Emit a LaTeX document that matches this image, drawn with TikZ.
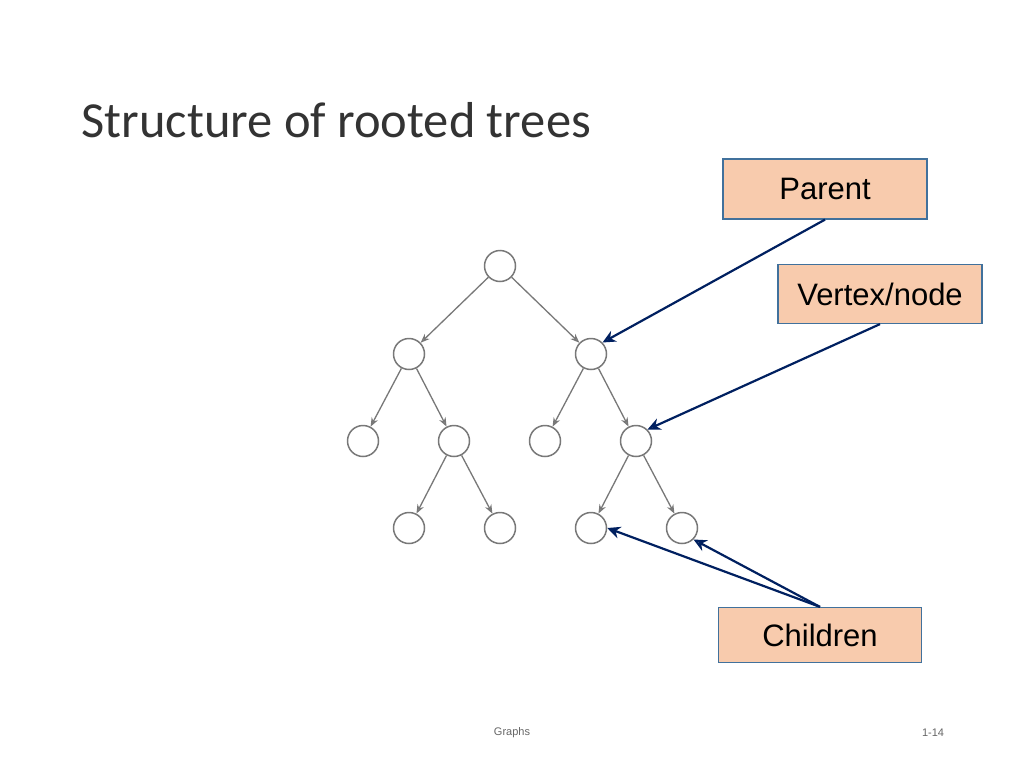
\documentclass[tikz,border=0pt]{standalone}
\usepackage{fontspec}
\setmainfont{Liberation Sans}
\newfontfamily\titlefont{Carlito}
\usetikzlibrary{arrows.meta}
\definecolor{peach}{RGB}{248,203,173}
\definecolor{bord}{RGB}{65,113,156}
\definecolor{navy}{RGB}{0,32,96}
\definecolor{vgray}{RGB}{120,120,120}
\begin{document}
\begin{tikzpicture}[x=1pt,y=-1pt,
  vert/.style={circle,draw=vgray,line width=1.5pt,minimum size=31pt,inner sep=0pt,fill=white},
  edge/.style={draw=vgray,line width=1.3pt,-{Stealth[length=9pt,width=7pt,open]}},
  lbl/.style={draw=bord,fill=peach,line width=1.2pt,font=\fontsize{31}{35}\selectfont},
  pt/.style={draw=navy,line width=2.2pt,-{Stealth[length=13pt,width=12pt,open]}}]
\useasboundingbox[fill=white] (0,0) rectangle (1024,768);
\node[anchor=west,font=\titlefont\fontsize{50.5}{55}\selectfont,text=black!80] (title) at (78,120) {Structure of rooted trees};
\node[vert] (r) at (500,266) {};
\node[vert] (a) at (409,354) {};
\node[vert] (b) at (591,354) {};
\node[vert] (a1) at (363,441) {};
\node[vert] (a2) at (454,441) {};
\node[vert] (b1) at (545,441) {};
\node[vert] (b2) at (636,441) {};
\node[vert] (c1) at (409,528) {};
\node[vert] (c2) at (500,528) {};
\node[vert] (d1) at (591,528) {};
\node[vert] (d2) at (682,528) {};
\foreach \u/\v in {r/a,r/b,a/a1,a/a2,b/b1,b/b2,a2/c1,a2/c2,b2/d1,b2/d2}
  \draw[edge] (\u) -- (\v);
\node[lbl,minimum width=204pt,minimum height=60pt] (par) at (825,189) {Parent};
\node[lbl,minimum width=204pt,minimum height=59pt] (ver) at (880,294) {Vertex/node};
\node[lbl,minimum width=203pt,minimum height=55pt] (chi) at (820,635) {Children};
\draw[pt] (par.south) -- (b.north east);
\draw[pt] (ver.south) -- (b2.north east);
\draw[pt] (chi.north) -- (d1.east);
\draw[pt] (chi.north) -- (d2.south east);
\node[font=\fontsize{11}{13}\selectfont,text=black!60] (ft) at (512,733) {Graphs};
\node[font=\fontsize{11}{13}\selectfont,text=black!60] (pg) at (933,733) {1-14};
\end{tikzpicture}
\end{document}
